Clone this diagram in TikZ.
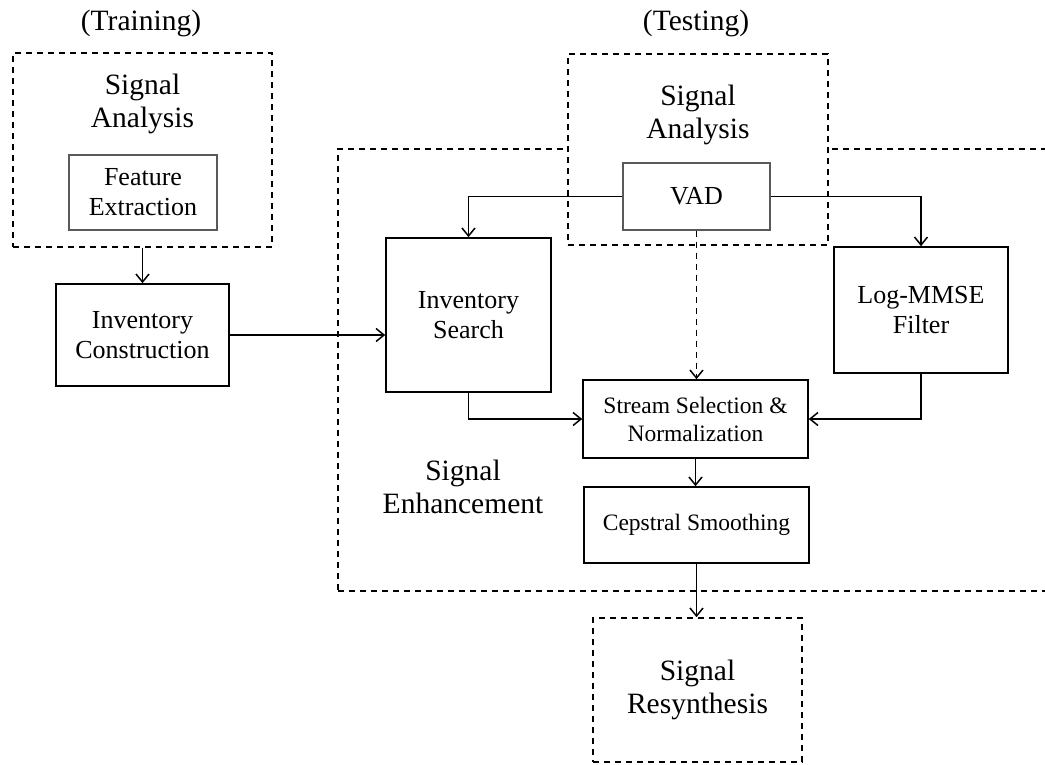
\documentclass[tikz,border=0pt]{standalone}
\usepackage{fontspec}
\setmainfont{Liberation Serif}
\usepackage{tikz}
\usetikzlibrary{arrows.meta,positioning,calc}

\begin{document}
\begin{tikzpicture}[x=1pt,y=-1pt,>={Straight Barb[length=8pt,width=13pt]},
    blk/.style={draw, line width=1.6pt, inner sep=0pt, align=center,
        font=\fontsize{26}{30}\selectfont},
    subblk/.style={draw=black!65, line width=1.1pt, inner sep=0pt, align=center,
        font=\fontsize{26}{30}\selectfont},
    grp/.style={draw, line width=1.6pt, dash pattern=on 6pt off 5pt, inner sep=0pt},
    ttl/.style={align=center, inner sep=0pt, font=\fontsize{29.5}{33}\selectfont},
    small/.style={font=\fontsize{23.5}{28}\selectfont},
    link/.style={->, line width=1.5pt}]
    \useasboundingbox (0,0) rectangle (1045,764);

    % Training side
    \node[ttl] (trainlbl) at (141,23) {(Training)};
    \node[grp, minimum width=259, minimum height=194] (trainbox) at (142.5,150) {};
    \node[ttl] (trainttl) at (142.5,104) {Signal\\Analysis};
    \node[subblk, minimum width=148, minimum height=75] (feat) at (143,192.5) {Feature\\Extraction};
    \node[blk, minimum width=173, minimum height=102] (invcon) at (142.5,335) {Inventory\\Construction};

    % Enhancement group, drawn before the testing analysis box hides its top
    \node[grp, minimum width=722, minimum height=442] (enhbox) at (699,370) {};
    \node[ttl] (enhttl) at (463,487) {Signal\\Enhancement};

    % Testing side
    \node[ttl] (testlbl) at (696,23) {(Testing)};
    \node[grp, fill=white, minimum width=260, minimum height=191] (testbox) at (698,149.5) {};
    \node[ttl] (testttl) at (698,115) {Signal\\Analysis};
    \node[subblk, minimum width=147, minimum height=67] (vad) at (696.5,196.5) {VAD};
    \node[blk, minimum width=165, minimum height=154] (invsrch) at (468.5,315) {Inventory\\Search};
    \node[blk, minimum width=174, minimum height=126] (logmmse) at (921,310) {Log-MMSE\\Filter};
    \node[blk, small, minimum width=225, minimum height=78] (stream) at (695.5,419) {Stream Selection \&\\Normalization};
    \node[blk, small, minimum width=225, minimum height=76] (ceps) at (696.5,525) {Cepstral Smoothing};
    \node[grp, ttl, minimum width=209, minimum height=144] (resyn) at (697.5,690) {Signal\\Resynthesis};

    % Connectors
    \draw[link] (trainbox.south) -- (invcon.north);
    \draw[link] (invcon.east) -- (invcon.east -| invsrch.west);
    \draw[link] (vad.west) -| (invsrch.north);
    \draw[link] (vad.east) -| (logmmse.north);
    \draw[link, dash pattern=on 6pt off 5pt] (vad.south) -- (vad.south |- stream.north);
    \draw[link] (invsrch.south) |- (stream.west);
    \draw[link] (logmmse.south) |- (stream.east);
    \draw[link] (stream.south) -- (stream.south |- ceps.north);
    \draw[link] (ceps.south) -- (ceps.south |- resyn.north);
\end{tikzpicture}
\end{document}
